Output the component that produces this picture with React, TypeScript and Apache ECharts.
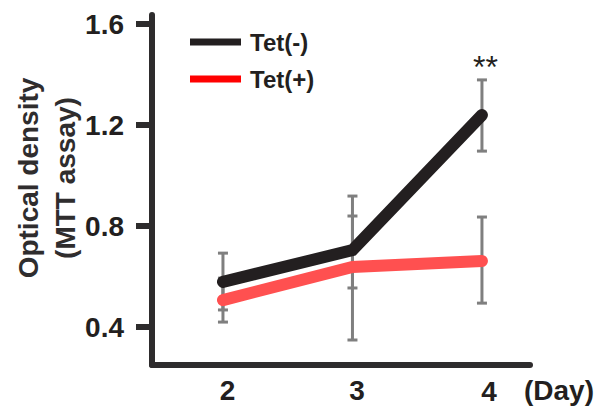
import React, { useEffect, useRef } from "react";
import * as echarts from "echarts";

const days = [2, 3, 4];
const tetMinus = [0.579, 0.705, 1.24];
const tetPlus = [0.507, 0.638, 0.662];
const tetMinusLow = [0.468, 0.555, 1.097];
const tetMinusHigh = [0.693, 0.919, 1.379];
const tetPlusLow = [0.42, 0.349, 0.495];
const tetPlusHigh = [0.594, 0.84, 0.836];
const yTicks = [0.4, 0.8, 1.2, 1.6];

const INK = "#231f20";

export default function App() {
  const ref = useRef<HTMLDivElement>(null);
  useEffect(() => {
    if (!ref.current) return;
    const chart = echarts.init(ref.current, null, { renderer: "svg" });
    const errData: number[][] = [];
    days.forEach((d, i) => {
      errData.push([d, tetMinusLow[i], tetMinusHigh[i]]);
      errData.push([d, tetPlusLow[i], tetPlusHigh[i]]);
    });
    const font = "'Liberation Sans', Arial, Helvetica, sans-serif";
    chart.setOption({
      animation: false,
      textStyle: { fontFamily: font },
      grid: { left: 152, top: 15, width: 378, height: 350, outerBoundsMode: "none", containLabel: false },
      legend: {
        orient: "vertical",
        left: 185,
        top: 24,
        itemWidth: 51,
        itemHeight: 7,
        itemGap: 11,
        icon: "rect",
        textStyle: {
          fontSize: 24,
          fontWeight: "bold",
          color: INK,
          lineHeight: 26,
          padding: [0, 0, 0, 4],
          fontFamily: font,
        },
        data: [
          { name: "Tet(-)", itemStyle: { color: INK } },
          { name: "Tet(+)", itemStyle: { color: "#ff0000" } },
        ],
      },
      xAxis: {
        type: "value",
        min: 1.452,
        max: 4.371,
        splitLine: { show: false },
        axisTick: { show: false },
        axisLine: { show: true, lineStyle: { color: "#2e2c2d", width: 6 } },
        axisLabel: {
          customValues: days,
          margin: 12,
          formatter: (v: number) => (v === 4 ? "{b|4}" : "{a|" + v + "}"),
          rich: {
            a: { fontSize: 28, lineHeight: 26, fontWeight: "bold", color: INK, padding: [0, 0, 0, 9], fontFamily: font },
            b: { fontSize: 28, lineHeight: 24, fontWeight: "bold", color: INK, padding: [5, 0, 0, 14], fontFamily: font },
          },
        },
        name: "(Day)",
        nameLocation: "end",
        nameGap: -6,
        nameTextStyle: {
          fontSize: 28,
          lineHeight: 24,
          fontWeight: "bold",
          color: INK,
          align: "left",
          verticalAlign: "top",
          padding: [13, 0, 0, 0],
          fontFamily: font,
        },
      },
      yAxis: {
        type: "value",
        min: 0.25,
        max: 1.636,
        splitLine: { show: false },
        axisLine: { show: true, lineStyle: { color: "#2e2c2d", width: 6 } },
        axisTick: {
          show: true,
          customValues: yTicks,
          length: 16,
          lineStyle: { color: "#2e2c2d", width: 6 },
        },
        axisLabel: {
          customValues: yTicks,
          margin: 28,
          fontSize: 28,
          fontWeight: "bold",
          color: INK,
          fontFamily: font,
          formatter: (v: number) => v.toFixed(1),
        },
      },
      graphic: [
        {
          type: "text",
          left: 473,
          top: 51,
          style: { text: "**", fontSize: 32, fill: INK, fontFamily: font },
        },
        {
          type: "text",
          x: 28,
          y: 178,
          rotation: Math.PI / 2,
          style: {
            text: "Optical density",
            fontSize: 28,
            fontWeight: "bold",
            fill: "#2f2d2e",
            align: "center",
            verticalAlign: "middle",
            fontFamily: font,
          },
        },
        {
          type: "text",
          x: 65,
          y: 178,
          rotation: Math.PI / 2,
          style: {
            text: "(MTT assay)",
            fontSize: 28,
            fontWeight: "bold",
            fill: "#2f2d2e",
            align: "center",
            verticalAlign: "middle",
            fontFamily: font,
          },
        },
      ],
      series: [
        {
          type: "custom",
          name: "err",
          z: 1,
          data: errData,
          renderItem: (params: any, api: any) => {
            const x = api.value(0);
            const lo = api.coord([x, api.value(1)]);
            const hi = api.coord([x, api.value(2)]);
            const w = 5;
            const st = { stroke: "#7f7f7f", lineWidth: 3 };
            return {
              type: "group",
              children: [
                { type: "line", shape: { x1: lo[0], y1: lo[1], x2: hi[0], y2: hi[1] }, style: st },
                { type: "line", shape: { x1: lo[0] - w, y1: lo[1], x2: lo[0] + w, y2: lo[1] }, style: st },
                { type: "line", shape: { x1: hi[0] - w, y1: hi[1], x2: hi[0] + w, y2: hi[1] }, style: st },
              ],
            };
          },
        },
        {
          type: "line",
          name: "Tet(+)",
          z: 2,
          symbol: "none",
          data: days.map((d, i) => [d, tetPlus[i]]),
          lineStyle: { color: "#ff5050", width: 12, cap: "round", join: "miter" },
          itemStyle: { color: "#ff0000" },
        },
        {
          type: "line",
          name: "Tet(-)",
          z: 3,
          symbol: "none",
          data: days.map((d, i) => [d, tetMinus[i]]),
          lineStyle: { color: INK, width: 12, cap: "round", join: "miter" },
          itemStyle: { color: INK },
        },
      ],
    });
    return () => chart.dispose();
  }, []);
  return (
    <div
      ref={ref}
      style={{ position: "fixed", left: 0, top: 0, width: 600, height: 407, background: "#fff" }}
    />
  );
}
